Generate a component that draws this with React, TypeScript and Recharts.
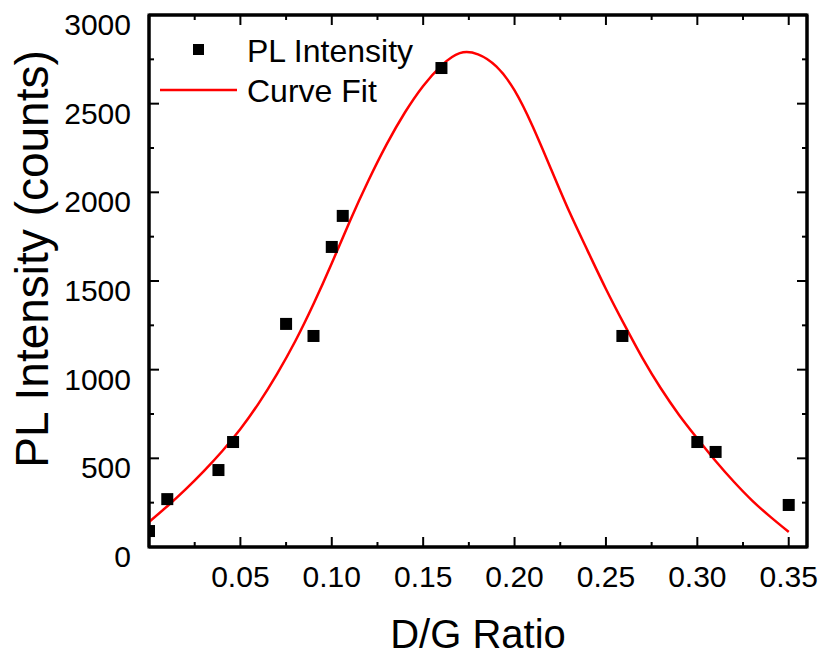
import { ComposedChart, Line, Scatter, XAxis, YAxis, Legend, ReferenceArea } from 'recharts';

// measured points
const ratio = [0, 0.01, 0.038, 0.046, 0.075, 0.09, 0.1, 0.106, 0.16, 0.259, 0.3, 0.31, 0.35];
const intensity = [90, 270, 434, 592, 1258, 1190, 1692, 1867, 2701, 1190, 592, 536, 237];

// fitted curve
const fitRatio = [
  0, 0.01, 0.02, 0.03, 0.04, 0.05, 0.06, 0.07, 0.08, 0.09, 0.1, 0.11, 0.12, 0.13, 0.14, 0.15, 0.16, 0.17,
  0.18, 0.19, 0.2, 0.21, 0.22, 0.23, 0.24, 0.25, 0.26, 0.27, 0.28, 0.29, 0.3, 0.31, 0.32, 0.33, 0.34, 0.35,
];
const fitIntensity = [
  141, 230, 325, 428, 540, 665, 810, 975, 1160, 1370, 1600, 1840, 2065, 2270, 2450, 2600, 2715, 2785,
  2778, 2710, 2575, 2370, 2130, 1890, 1670, 1455, 1255, 1065, 895, 745, 612, 485, 368, 262, 170, 85,
];

const xTicks = [0, 0.025, 0.05, 0.075, 0.1, 0.125, 0.15, 0.175, 0.2, 0.225, 0.25, 0.275, 0.3, 0.325, 0.35];
const xLabels = ['0.05', '0.10', '0.15', '0.20', '0.25', '0.30', '0.35'];
const yTicks = [0, 250, 500, 750, 1000, 1250, 1500, 1750, 2000, 2250, 2500, 2750, 3000];
const yLabels = ['0', '500', '1000', '1500', '2000', '2500', '3000'];

const points = ratio.map((x, i) => ({ x, y: intensity[i] }));
const fit = fitRatio.map((x, i) => ({ x, y: fitIntensity[i] }));

const FONT = '"Liberation Sans", Arial, sans-serif';
const MAJOR = 10;
const MINOR = 5;

const xLabelOf = (v: number) => xLabels.find((l) => Math.abs(parseFloat(l) - v) < 1e-9);
const yLabelOf = (v: number) => yLabels.find((l) => parseFloat(l) === v);

const BottomTick = ({ x, y, payload }: any) => {
  const label = xLabelOf(payload.value);
  const major = label !== undefined || payload.value === 0;
  return (
    <g>
      <line x1={x} x2={x} y1={y} y2={y - (major ? MAJOR : MINOR)} stroke="#000" strokeWidth={2} />
      {label && (
        <text x={x} y={y + 40} textAnchor="middle" fontSize={30} fill="#000" fontFamily={FONT}>
          {label}
        </text>
      )}
    </g>
  );
};

const TopTick = ({ x, y, payload }: any) => {
  const major = xLabelOf(payload.value) !== undefined || payload.value === 0;
  return <line x1={x} x2={x} y1={y} y2={y + (major ? MAJOR : MINOR)} stroke="#000" strokeWidth={2} />;
};

const LeftTick = ({ x, y, payload }: any) => {
  const label = yLabelOf(payload.value);
  return (
    <g>
      <line x1={x} x2={x + (label ? MAJOR : MINOR)} y1={y} y2={y} stroke="#000" strokeWidth={2} />
      {label && (
        <text x={x - 18} y={y + 20} textAnchor="end" fontSize={30} fill="#000" fontFamily={FONT}>
          {label}
        </text>
      )}
    </g>
  );
};

const RightTick = ({ x, y, payload }: any) => {
  const label = yLabelOf(payload.value);
  return <line x1={x} x2={x - (label ? MAJOR : MINOR)} y1={y} y2={y} stroke="#000" strokeWidth={2} />;
};

const YTitle = ({ viewBox }: any) => {
  const x = viewBox.x - 1;
  const y = viewBox.y + viewBox.height / 2 - 22;
  return (
    <text x={x} y={y} transform={`rotate(-90, ${x}, ${y})`} textAnchor="middle" fontSize={46} fill="#000" fontFamily={FONT}>
      PL Intensity (counts)
    </text>
  );
};

const LegendBox = () => (
  <svg width={300} height={95} style={{ display: 'block' }}>
    <rect x={43} y={24} width={11} height={11} fill="#000" />
    <text x={97} y={42} fontSize={32} fill="#000" fontFamily={FONT}>
      PL Intensity
    </text>
    <line x1={10} x2={87} y1={70} y2={70} stroke="#ff0000" strokeWidth={2.5} />
    <text x={97} y={82} fontSize={32} fill="#000" fontFamily={FONT}>
      Curve Fit
    </text>
  </svg>
);

const axisLine = { stroke: '#000', strokeWidth: 3 };

export default function App() {
  return (
    <div style={{ position: 'absolute', left: 0, top: 0, background: '#fff' }}>
      <ComposedChart
        width={827}
        height={656}
        margin={{ top: 14, right: 19, bottom: 0, left: 49 }}
        style={{ fontFamily: FONT }}
      >
        <XAxis
          xAxisId={0}
          type="number"
          dataKey="x"
          domain={[0, 0.36]}
          allowDataOverflow
          ticks={xTicks}
          interval={0}
          tickSize={0}
          tickMargin={0}
          tick={<BottomTick />}
          tickLine={false}
          axisLine={axisLine}
          height={109}
          label={{ value: 'D/G Ratio', position: 'insideBottom', offset: 8, fontSize: 40, fill: '#000', fontFamily: FONT }}
        />
        <XAxis
          xAxisId="top"
          orientation="top"
          type="number"
          dataKey="x"
          domain={[0, 0.36]}
          allowDataOverflow
          ticks={xTicks}
          interval={0}
          tickSize={0}
          tickMargin={0}
          tick={<TopTick />}
          tickLine={false}
          axisLine={axisLine}
          height={1}
        />
        <YAxis
          yAxisId={0}
          type="number"
          dataKey="y"
          domain={[0, 3000]}
          allowDataOverflow
          ticks={yTicks}
          interval={0}
          tickSize={0}
          tickMargin={0}
          tick={<LeftTick />}
          tickLine={false}
          axisLine={axisLine}
          width={100}
          label={{ content: <YTitle /> }}
        />
        <YAxis
          yAxisId="right"
          orientation="right"
          type="number"
          domain={[0, 3000]}
          allowDataOverflow
          ticks={yTicks}
          interval={0}
          tickSize={0}
          tickMargin={0}
          tick={<RightTick />}
          tickLine={false}
          axisLine={axisLine}
          width={1}
        />
        <Legend
          layout="vertical"
          align="center"
          verticalAlign="middle"
          wrapperStyle={{ left: 150, top: 20, width: 300, height: 95 }}
          content={() => <LegendBox />}
        />
        <ReferenceArea
          x1={0}
          x2={0.36}
          y1={0}
          y2={3000}
          fill="none"
          fillOpacity={0}
          stroke="#000"
          strokeWidth={3}
          ifOverflow="visible"
        />
        <Line
          name="Curve Fit"
          data={fit}
          dataKey="y"
          type="natural"
          stroke="#ff0000"
          strokeWidth={2.5}
          dot={false}
          activeDot={false}
          isAnimationActive={false}
        />
        <Scatter
          name="PL Intensity"
          data={points}
          dataKey="y"
          fill="#000"
          shape={(p: any) => <rect x={p.cx - 6} y={p.cy - 6} width={12} height={12} fill="#000" />}
          isAnimationActive={false}
        />
      </ComposedChart>
    </div>
  );
}
